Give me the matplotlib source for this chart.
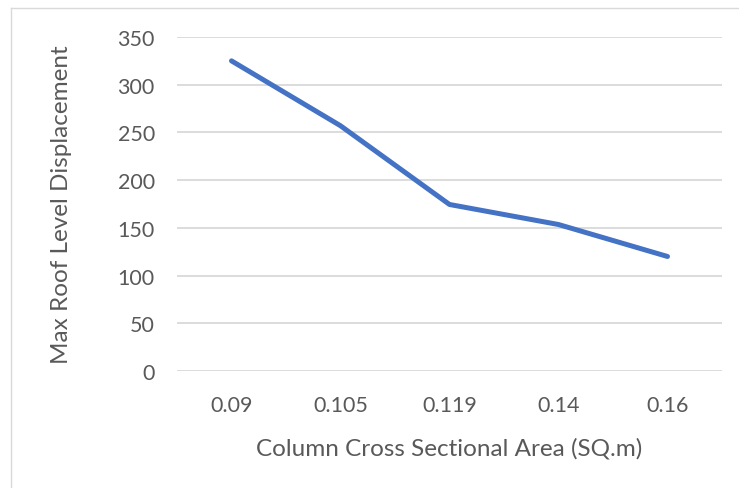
import matplotlib.pyplot as plt
from matplotlib.lines import Line2D

areas = ["0.09", "0.105", "0.119", "0.14", "0.16"]
displacement = [325, 257, 174.5, 153.5, 120]
y_ticks = [0, 50, 100, 150, 200, 250, 300, 350]

W, H = 739, 489
plt.rcParams['font.family'] = ['Lato', 'DejaVu Sans']
text_color = '#595959'
grid_color = '#d9d9d9'

fig = plt.figure(figsize=(W / 100, H / 100), dpi=100)

# plot area in pixels: x 177..722, y 38..372
ax = fig.add_axes([177 / W, 1 - 372 / H, (722 - 177) / W, (372 - 38) / H])

x = range(len(areas))
ax.plot(x, displacement, color='#4472C4', linewidth=3.6,
        solid_capstyle='round', solid_joinstyle='round', zorder=3)

ax.set_xlim(-0.5, len(areas) - 0.5)
ax.set_ylim(0, 350)
ax.set_yticks(y_ticks)
ax.set_xticks(list(x))
ax.set_xticklabels(areas)
ax.yaxis.grid(True, color=grid_color, linewidth=1.3)
ax.set_axisbelow(True)
for s in ax.spines.values():
    s.set_visible(False)
ax.tick_params(axis='both', length=0, labelsize=15.5, labelcolor=text_color)
ax.tick_params(axis='y', pad=16)
ax.tick_params(axis='x', pad=17)

ax.set_xlabel("Column Cross Sectional Area (SQ.m)", fontsize=17.5,
              color=text_color, labelpad=16)
ax.set_ylabel("Max Roof Level Displacement", fontsize=17.5,
              color=text_color, labelpad=33)

# chart frame (only left and top edges are inside the picture)
fig.add_artist(Line2D([11 / W, 11 / W], [0, 1 - 9 / H], transform=fig.transFigure,
                      color=grid_color, linewidth=1))
fig.add_artist(Line2D([11 / W, 1], [1 - 9 / H, 1 - 9 / H], transform=fig.transFigure,
                      color=grid_color, linewidth=1))

fig.savefig("out.png", dpi=100)
